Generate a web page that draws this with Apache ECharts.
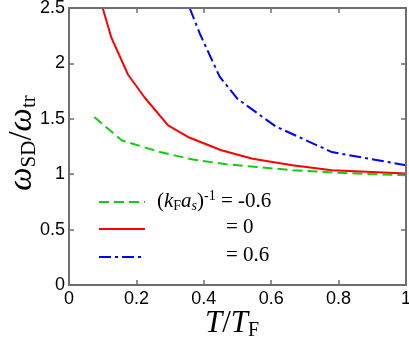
<!DOCTYPE html>
<html><head><meta charset="utf-8">
<script src="https://cdn.jsdelivr.net/npm/echarts@6/dist/echarts.min.js"></script>
<style>html,body{margin:0;padding:0;background:#fff}#c{width:409px;height:346px}</style>
</head><body><div id="c"></div>
<script>
// Data
const greenX = [0.075, 0.156, 0.27, 0.368, 0.466, 0.664, 0.82, 1.0];
const greenY = [1.516, 1.306, 1.20, 1.132, 1.09, 1.036, 1.01, 0.99];
const redX = [0.1, 0.126, 0.175, 0.225, 0.294, 0.353, 0.452, 0.545, 0.663, 0.78, 1.0];
const redY = [2.5, 2.23, 1.90, 1.69, 1.44, 1.336, 1.216, 1.14, 1.08, 1.036, 1.006];
const blueX = [0.358, 0.388, 0.447, 0.5, 0.614, 0.78, 1.0];
const blueY = [2.5, 2.27, 1.88, 1.68, 1.43, 1.20, 1.08];
const xTicks = [0, 0.2, 0.4, 0.6, 0.8, 1];
const yTicks = [0, 0.5, 1, 1.5, 2, 2.5];

const zip = (xs, ys) => xs.map((x, i) => [x, ys[i]]);
const chart = echarts.init(document.getElementById('c'));
const axisCol = '#6e6e6e';
const tickFont = {fontFamily: 'Liberation Sans', fontSize: 18, color: '#000'};
const serif = 'Liberation Serif';

function xAxisDef(pos, labels) {
  return {type: 'value', gridIndex: 0, position: pos, min: xTicks[0], max: xTicks[xTicks.length - 1], interval: 0.2,
    splitLine: {show: false}, z: 10,
    axisLine: {show: true, onZero: false, lineStyle: {color: axisCol, width: 2}},
    axisTick: {show: true, inside: true, length: 5, lineStyle: {color: axisCol, width: 1.5}},
    axisLabel: labels ? Object.assign({margin: 5, formatter: v => String(+v.toFixed(1))}, tickFont) : {show: false}};
}
function yAxisDef(pos, labels) {
  return {type: 'value', gridIndex: 0, position: pos, min: yTicks[0], max: yTicks[yTicks.length - 1], interval: 0.5,
    splitLine: {show: false}, z: 10,
    axisLine: {show: true, onZero: false, lineStyle: {color: axisCol, width: 2}},
    axisTick: {show: true, inside: true, length: 5, lineStyle: {color: axisCol, width: 1.5}},
    axisLabel: labels ? Object.assign({margin: 4, formatter: v => String(+v.toFixed(1))}, tickFont) : {show: false}};
}

const lx1 = 99, lx2 = 145;
chart.setOption({
  animation: false,
  grid: {left: 69, right: 3, top: 8, bottom: 61, containLabel: false, outerBoundsMode: 'none',
    show: true, borderColor: axisCol, borderWidth: 2, backgroundColor: 'transparent', z: 10},
  xAxis: [xAxisDef('bottom', true), xAxisDef('top', false)],
  yAxis: [yAxisDef('left', true), yAxisDef('right', false)],
  series: [
    // green drawn on the mirrored (identical-scale) top/right axes so they render
    {type: 'line', xAxisIndex: 1, yAxisIndex: 1, data: zip(greenX, greenY), showSymbol: false, clip: true,
      lineStyle: {color: '#11cc11', width: 2, type: [10, 5]}},
    {type: 'line', data: zip(redX, redY), showSymbol: false, clip: true,
      lineStyle: {color: '#ff0000', width: 2}},
    {type: 'line', data: zip(blueX, blueY), showSymbol: false, clip: true,
      lineStyle: {color: '#0000ff', width: 2, type: [12, 4, 3, 4]}}
  ],
  graphic: [
    {type: 'line', shape: {x1: lx1, y1: 202, x2: lx2, y2: 202}, style: {stroke: '#11cc11', lineWidth: 2, lineDash: [10, 5]}},
    {type: 'line', shape: {x1: lx1, y1: 229, x2: lx2, y2: 229}, style: {stroke: '#ff0000', lineWidth: 2}},
    {type: 'line', shape: {x1: lx1, y1: 257, x2: lx2, y2: 257}, style: {stroke: '#0000ff', lineWidth: 2, lineDash: [12, 4, 3, 4]}},
    {type: 'text', left: 157, top: 189, style: {
      text: '{t|(}{i|k}{s|F}{i|a}{si|s}{t|)}{p|-1}{t| = -0.6}',
      rich: {
        t: {fontFamily: serif, fontSize: 21, fill: '#000'},
        i: {fontFamily: serif, fontSize: 21, fontStyle: 'italic', fill: '#000'},
        s: {fontFamily: serif, fontSize: 14, fill: '#000', padding: [11, 0, 0, 0]},
        si: {fontFamily: serif, fontSize: 14, fontStyle: 'italic', fill: '#000', padding: [11, 0, 0, 0]},
        p: {fontFamily: serif, fontSize: 14, fill: '#000', padding: [0, 0, 10, 0]}
      }}},
    {type: 'text', left: 226, top: 217, style: {text: '= 0', font: '21px "Liberation Serif"', fill: '#000'}},
    {type: 'text', left: 226, top: 245, style: {text: '= 0.6', font: '21px "Liberation Serif"', fill: '#000'}},
    // x axis title
    {type: 'text', left: 205, top: 308, style: {
      text: '{i|T}{t|/}{i|T}{s|F}',
      rich: {
        i: {fontFamily: serif, fontSize: 31, fontStyle: 'italic', fill: '#000'},
        t: {fontFamily: serif, fontSize: 31, fill: '#000'},
        s: {fontFamily: serif, fontSize: 20, fill: '#000', padding: [14, 0, 0, 0]}
      }}},
    // y axis title
    {type: 'text', x: 22, y: 143, rotation: Math.PI / 2, style: {
      text: '{i|ω}{s|SD}{t|/}{i|ω}{s|tr}', align: 'center', verticalAlign: 'middle',
      rich: {
        i: {fontFamily: serif, fontSize: 33, fontStyle: 'italic', fill: '#000'},
        t: {fontFamily: serif, fontSize: 33, fill: '#000'},
        s: {fontFamily: serif, fontSize: 21, fill: '#000', padding: [14, 0, 0, 0]}
      }}}
  ]
});
</script></body></html>
